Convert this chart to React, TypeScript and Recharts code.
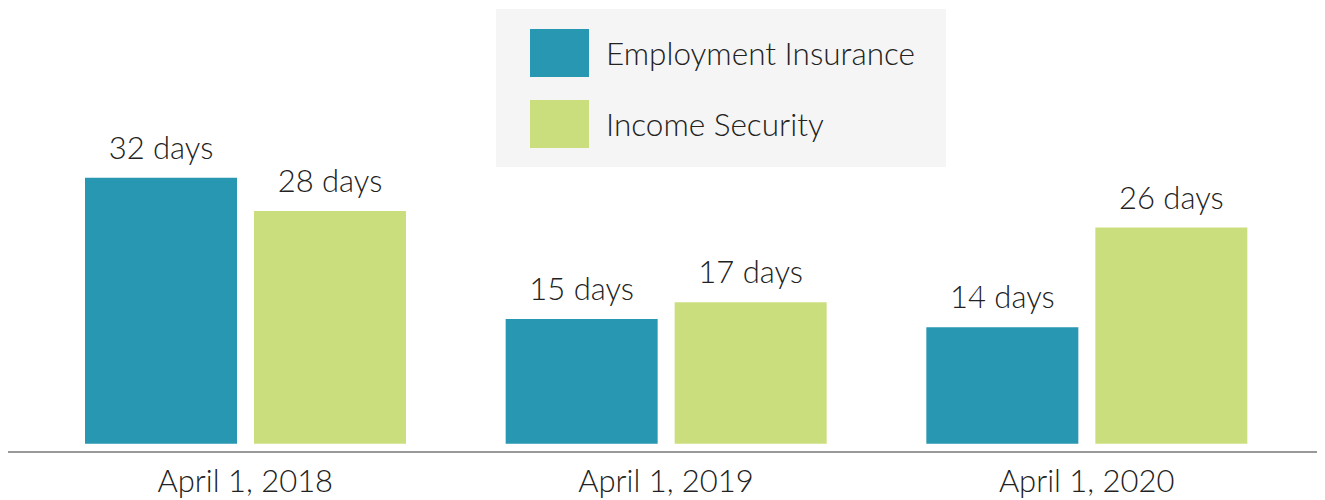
import React from 'react';
import { BarChart, Bar, XAxis, YAxis, LabelList } from 'recharts';

const dates = ['April 1, 2018', 'April 1, 2019', 'April 1, 2020'];
const employmentInsurance = [32, 15, 14];
const incomeSecurity = [28, 17, 26];

const EI_COLOR = '#2897b2';
const IS_COLOR = '#cbde7e';
const FONT = 'Lato, "Open Sans", sans-serif';

const data = dates.map((date, i) => ({
  date,
  ei: employmentInsurance[i],
  is: incomeSecurity[i],
}));

const legendItems = [
  { label: 'Employment Insurance', color: EI_COLOR },
  { label: 'Income Security', color: IS_COLOR },
];

// legend drawn as an overlay so it doesn't eat into the plot area
const ChartLegend = () => (
  <div
    style={{
      position: 'absolute',
      left: 488,
      top: 1,
      background: '#f5f5f5',
      width: 450,
      height: 158,
      boxSizing: 'border-box',
      padding: '20px 0 0 34px',
      fontFamily: FONT,
      fontWeight: 300,
      fontSize: 31.5,
      color: '#222',
    }}
  >
    {legendItems.map((item, i) => (
      <div
        key={item.label}
        style={{ display: 'flex', alignItems: 'center', height: 48, marginBottom: i === 0 ? 23 : 0 }}
      >
        <span style={{ display: 'inline-block', width: 59, height: 48, background: item.color }} />
        <span style={{ marginLeft: 17 }}>{item.label}</span>
      </div>
    ))}
  </div>
);

const labelStyle = { fontSize: 31, fill: '#222', fontWeight: 300, fontFamily: FONT };

const App: React.FC = () => {
  return (
    <div style={{ position: 'relative', width: 1317, height: 492, fontFamily: FONT }}>
      <BarChart
        width={1317}
        height={492}
        data={data}
        margin={{ top: 20, right: 0, left: 0, bottom: 0 }}
        barGap={17}
        barSize={152}
      >
        <XAxis
          dataKey="date"
          axisLine={{ stroke: '#999', strokeWidth: 2 }}
          tickLine={false}
          height={48}
          padding={{ left: 27, right: 28 }}
          tick={{ ...labelStyle, dy: 10 }}
        />
        <YAxis hide domain={[-1, 50]} />
        <Bar dataKey="ei" fill={EI_COLOR} isAnimationActive={false}>
          <LabelList
            dataKey="ei"
            position="top"
            offset={19}
            formatter={(v: number) => `${v} days`}
            style={labelStyle}
          />
        </Bar>
        <Bar dataKey="is" fill={IS_COLOR} isAnimationActive={false}>
          <LabelList
            dataKey="is"
            position="top"
            offset={19}
            formatter={(v: number) => `${v} days`}
            style={labelStyle}
          />
        </Bar>
      </BarChart>
      <ChartLegend />
    </div>
  );
};

export default App;
